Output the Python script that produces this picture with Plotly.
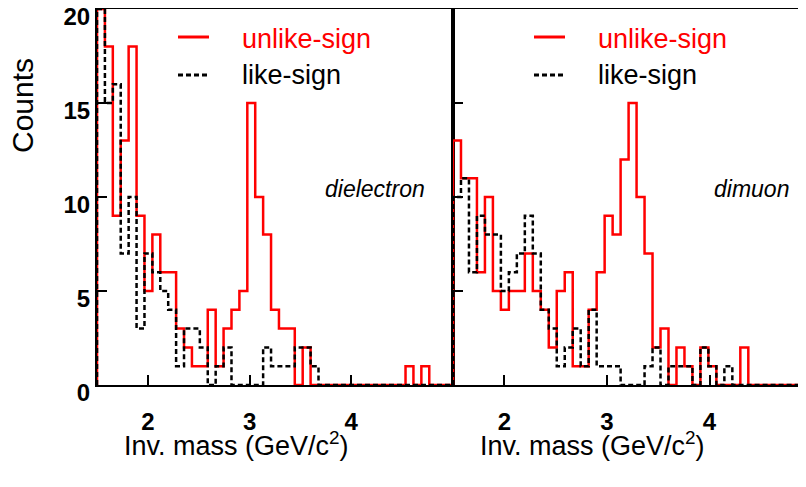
import numpy as np
import plotly.graph_objects as go

# ---------------- data ----------------
bin_lo, bin_hi, n_bins = 1.5, 5.0, 45

ee_unlike = [20, 18, 9, 13, 18, 9, 5, 8, 6, 6,
             3, 2, 1, 1, 4, 1, 3, 4, 5, 15,
             10, 8, 4, 3, 3, 0, 2, 0, 0, 0,
             0, 0, 0, 0, 0, 0, 0, 0, 0, 1,
             0, 1, 0, 0, 0]
ee_like = [20, 15, 16, 7, 10, 3, 7, 6, 5, 4,
           1, 3, 3, 2, 0, 1, 2, 0, 0, 0,
           0, 2, 1, 1, 1, 2, 2, 1, 0, 0,
           0, 0, 0, 0, 0, 0, 0, 0, 0, 0,
           0, 0, 0, 0, 0]
mm_unlike = [13, 11, 11, 6, 10, 5, 4, 5, 5, 7,
             5, 4, 2, 5, 6, 1, 1, 4, 6, 9,
             8, 12, 15, 10, 7, 2, 3, 0, 2, 1,
             0, 2, 1, 0, 0, 0, 2, 0, 0, 0,
             0, 0, 0, 0, 0]
mm_like = [10, 11, 6, 9, 8, 8, 5, 6, 7, 9,
           7, 4, 3, 1, 2, 3, 1, 4, 1, 1,
           1, 0, 0, 0, 1, 2, 0, 1, 1, 1,
           0, 2, 1, 0, 1, 0, 0, 0, 0, 0,
           0, 0, 0, 0, 0]

x_ticks = [2, 3, 4]
x_ticktext = ["2", "3", "4"]
y_ticks = [0, 5, 10, 15, 20]
y_ticktext = ["0", "5", "10", "15", "20"]

series_names = ["unlike-sign", "like-sign"]
panel_labels = ["dielectron", "dimuon"]
x_title = "Inv. mass (GeV/c<sup>2</sup>)"
y_title = "Counts"

# ---------------- layout helpers ----------------
W, H = 806, 487
OFF = 8  # page body margin of the html page
FONT = "Liberation Sans, Arial, Helvetica, sans-serif"


def px(x):
    return (x - OFF) / W


def py(y):
    return 1 - (y - OFF) / H


edges = np.linspace(bin_lo, bin_hi, n_bins + 1)


def step(counts):
    c = np.asarray(counts, dtype=float)
    xs = np.concatenate([[edges[0]], edges])
    ys = np.concatenate([[0.0], c, [c[-1]]])
    return xs, ys


RED = "#ff0000"
DASH = "5px,3px"

fig = go.Figure()
for unl, lik, xa, ya in [(ee_unlike, ee_like, "x", "y"), (mm_unlike, mm_like, "x2", "y2")]:
    xs, ys = step(unl)
    fig.add_trace(go.Scatter(x=xs, y=ys, mode="lines", xaxis=xa, yaxis=ya,
                             line=dict(color=RED, width=2.5, shape="hv"),
                             name=series_names[0], showlegend=False, hoverinfo="skip"))
    xs, ys = step(lik)
    fig.add_trace(go.Scatter(x=xs, y=ys, mode="lines", xaxis=xa, yaxis=ya,
                             line=dict(color="black", width=2.5, dash=DASH, shape="hv"),
                             name=series_names[1], showlegend=False, hoverinfo="skip"))

ydom = [py(385), py(9)]
common_x = dict(tickvals=x_ticks, ticktext=x_ticktext, ticks="inside", ticklen=10, tickwidth=1.5,
                tickcolor="black", showline=True, linewidth=2, linecolor="black", mirror=True,
                showgrid=False, zeroline=False, automargin=False, ticklabelstandoff=14,
                tickfont=dict(family=FONT, size=24, color="black", weight="bold"))
common_y = dict(range=[0, 20], tickvals=y_ticks, ticktext=y_ticktext, ticks="inside", ticklen=10,
                tickwidth=1.5, tickcolor="black", showline=True, linewidth=2, linecolor="black",
                showgrid=False, zeroline=False, automargin=False, domain=ydom,
                tickfont=dict(family=FONT, size=24, color="black", weight="bold"))

fig.update_layout(
    width=W, height=H, autosize=False,
    margin=dict(l=0, r=0, t=0, b=0),
    paper_bgcolor="white", plot_bgcolor="white",
    xaxis=dict(domain=[px(97), px(453)], range=[1.5, 5.0], anchor="y", **common_x),
    yaxis=dict(anchor="x", mirror=True, ticklabelshift=8, ticklabeloverflow="allow",
               **common_y),
    xaxis2=dict(domain=[px(453), px(806)], range=[1.5, 4.94], anchor="y2", **common_x),
    yaxis2=dict(anchor="x2", showticklabels=False, **common_y),
)

ann = []
shapes = []
# axis titles
ann.append(dict(text=y_title, x=px(23), y=py(106), xref="paper", yref="paper", showarrow=False,
                textangle=-90, xanchor="center", yanchor="middle",
                font=dict(family=FONT, size=30, color="black")))
for cx in (236, 592):
    ann.append(dict(text=x_title, x=px(cx), y=py(444), xref="paper", yref="paper", showarrow=False,
                    xanchor="center", yanchor="middle",
                    font=dict(family=FONT, size=27, color="black")))

# legends and panel labels
for off, lab, lx in [(0, panel_labels[0], 375), (356, panel_labels[1], 751)]:
    shapes.append(dict(type="line", xref="paper", yref="paper",
                       x0=px(178 + off), x1=px(209 + off), y0=py(37), y1=py(37),
                       line=dict(color=RED, width=3)))
    shapes.append(dict(type="line", xref="paper", yref="paper",
                       x0=px(178 + off), x1=px(209 + off), y0=py(75), y1=py(75),
                       line=dict(color="black", width=3, dash=DASH)))
    ann.append(dict(text=series_names[0], x=px(240 + off), y=py(39), xref="paper", yref="paper",
                    showarrow=False, xanchor="left", yanchor="middle",
                    font=dict(family=FONT, size=27, color=RED)))
    ann.append(dict(text=series_names[1], x=px(240 + off), y=py(75), xref="paper", yref="paper",
                    showarrow=False, xanchor="left", yanchor="middle",
                    font=dict(family=FONT, size=27, color="black")))
    ann.append(dict(text="<i>" + lab + "</i>", x=px(lx), y=py(189), xref="paper", yref="paper",
                    showarrow=False, xanchor="center", yanchor="middle",
                    font=dict(family=FONT, size=23, color="black")))

fig.update_layout(annotations=ann, shapes=shapes)
fig.write_html("out.html")
